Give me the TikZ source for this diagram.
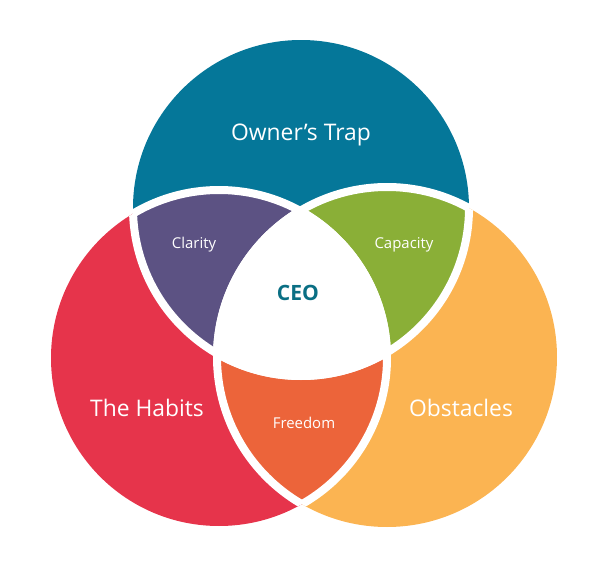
\documentclass[tikz,border=0pt]{standalone}
\usepackage{fontspec}
\setmainfont{Open Sans}
\usepackage{xcolor}
\definecolor{trapteal}{HTML}{057799}
\definecolor{clarityviolet}{HTML}{5C5283}
\definecolor{capacitygreen}{HTML}{8AAF37}
\definecolor{habitred}{HTML}{E6344B}
\definecolor{obstacleorange}{HTML}{FBB452}
\definecolor{freedomorange}{HTML}{EC643A}
\definecolor{ceoteal}{HTML}{0A6F84}

\begin{document}
\begin{tikzpicture}[x=0.02cm, y=-0.02cm,
    gap/.style={draw=white, line width=0.16cm},
    bigtext/.style={text=white, font=\fontsize{13}{15}\selectfont},
    smalltext/.style={text=white, font=\fontsize{8.5}{10}\selectfont}]
    \useasboundingbox (0,0) rectangle (606,578);
    \def\trapcircle{(301,208) circle[radius=168]}
    \def\habitcircle{(219,358) circle[radius=168]}
    \def\obstaclecircle{(387,357) circle[radius=170]}

    % the three sets
    \fill[trapteal] \trapcircle;
    \fill[habitred] \habitcircle;
    \fill[obstacleorange] \obstaclecircle;

    % overlaps
    \begin{scope}
        \clip \habitcircle;
        \fill[freedomorange] \obstaclecircle;
    \end{scope}
    \begin{scope}
        \clip \trapcircle;
        \fill[clarityviolet] \habitcircle;
        \fill[capacitygreen] \obstaclecircle;
        \clip \habitcircle;
        \fill[white] \obstaclecircle;
    \end{scope}

    % white gaps inside the other sets only
    \foreach \a/\b in {\trapcircle/\habitcircle, \trapcircle/\obstaclecircle,
                       \habitcircle/\trapcircle, \habitcircle/\obstaclecircle,
                       \obstaclecircle/\trapcircle, \obstaclecircle/\habitcircle}
    {
        \begin{scope}
            \clip \b;
            \draw[gap] \a;
        \end{scope}
    }

    \node[bigtext] (trap) at (301,135) {Owner’s Trap};
    \node[bigtext] (habits) at (147,408) {The Habits};
    \node[bigtext] (obstacles) at (461,408) {Obstacles};
    \node[smalltext] (clarity) at (194,245) {Clarity};
    \node[smalltext] (capacity) at (404,245) {Capacity};
    \node[smalltext] (freedom) at (304,423) {Freedom};
    \node[text=ceoteal, font=\fontsize{12}{14}\selectfont\bfseries] (ceo) at (298,293) {CEO};
\end{tikzpicture}
\end{document}
